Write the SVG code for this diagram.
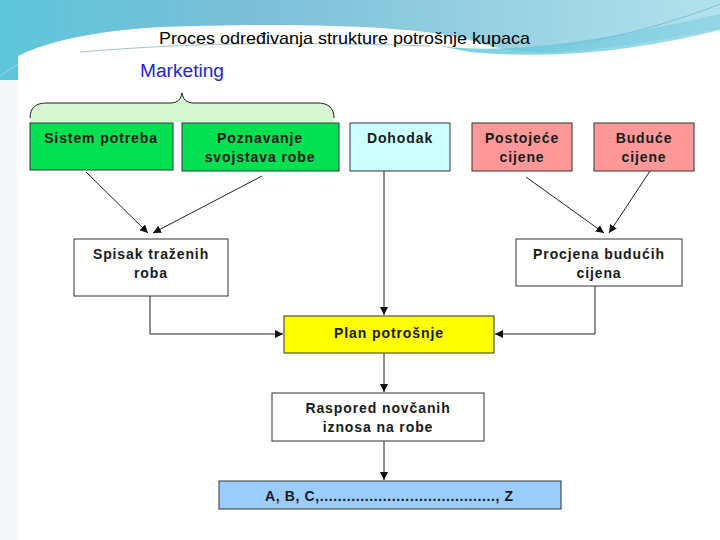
<svg xmlns="http://www.w3.org/2000/svg" width="720" height="540" viewBox="0 0 720 540">
<defs>
<linearGradient id="sky" x1="0" y1="0" x2="1" y2="0">
<stop offset="0" stop-color="#5ec6da"/>
<stop offset="0.35" stop-color="#7bbfd8"/>
<stop offset="1" stop-color="#b2e2ec"/>
</linearGradient>
<linearGradient id="wave" x1="0" y1="0" x2="1" y2="0">
<stop offset="0" stop-color="#55c3da"/>
<stop offset="1" stop-color="#8fd3e3"/>
</linearGradient>
<marker id="ah" viewBox="0 0 10 10" refX="10" refY="5" markerWidth="8" markerHeight="8" markerUnits="userSpaceOnUse" orient="auto">
<path d="M0,0 L10,5 L0,10 z" fill="#111"/>
</marker>
<style>
.box{stroke:#333;stroke-width:1}
.t{font-family:"Liberation Sans",Arial,sans-serif;font-weight:bold;font-size:14px;letter-spacing:0.9px;fill:#1a1a1a;text-anchor:middle}
.c{fill:none;stroke:#222;stroke-width:1}
</style>
</defs>
<rect x="0" y="0" width="720" height="540" fill="#f5f7f8"/>
<rect x="0" y="0" width="720" height="80" fill="url(#sky)"/>
<path d="M18,56 C40,45 80,32 160,27 C300,22 420,26 470,40 C500,50 520,53 560,52 C620,48 680,36 720,29 L720,540 L18,540 Z" fill="#ffffff"/>
<path d="M440,46 C520,56 620,36 720,14 L720,30 C640,50 560,60 470,52 Z" fill="url(#wave)" opacity="0.8"/>
<path d="M80,52 C200,42 300,42 430,46" fill="none" stroke="#9fc7d4" stroke-width="1"/>
<path d="M560,46 C620,38 680,20 720,4" fill="none" stroke="#7cc1d3" stroke-width="1"/>
<path d="M0,76 C6,72 12,68 18,64" fill="none" stroke="#9fd4e0" stroke-width="1"/>
<rect x="18" y="56" width="689" height="484" fill="#ffffff"/>
<text x="344.5" y="44" font-family="'Liberation Sans',Arial,sans-serif" font-size="17" fill="#000" text-anchor="middle" textLength="371" lengthAdjust="spacingAndGlyphs">Proces određivanja strukture potrošnje kupaca</text>

<g id="marketing">
<text x="182" y="77" font-family="'Liberation Sans',Arial,sans-serif" font-size="18" fill="#2424cc" text-anchor="middle" textLength="84" lengthAdjust="spacingAndGlyphs">Marketing</text>
<path d="M30,122 L30,114 C30,106 36,103 46,103 L170,103 C178,103 181,99 182,93 C183,99 186,103 194,103 L318,103 C328,103 334,106 334,114 L334,122 Z" fill="#d6f7d2"/>
<path d="M30,118 C30,108 36,103 46,103 L170,103 C178,103 181,99 182,93 C183,99 186,103 194,103 L318,103 C328,103 334,108 334,118" fill="none" stroke="#222" stroke-width="1"/>
</g>

<g id="sistem"><rect class="box" x="30" y="123" width="143" height="47" fill="#00e050"/><text class="t" x="101" y="143">Sistem potreba</text></g>
<g id="poznavanje"><rect class="box" x="182" y="123" width="157" height="48" fill="#00e050"/><text class="t" x="260" y="143">Poznavanje</text><text class="t" x="260" y="162">svojstava robe</text></g>
<g id="dohodak"><rect class="box" x="350" y="123" width="100" height="48" fill="#ccffff"/><text class="t" x="400" y="143">Dohodak</text></g>
<g id="postojece"><rect class="box" x="472" y="123" width="100" height="48" fill="#ff9999"/><text class="t" x="522" y="143">Postojeće</text><text class="t" x="522" y="162">cijene</text></g>
<g id="buduce"><rect class="box" x="594" y="123" width="100" height="48" fill="#ff9999"/><text class="t" x="644" y="143">Buduće</text><text class="t" x="644" y="162">cijene</text></g>
<g id="spisak"><rect class="box" x="74" y="239" width="154" height="57" fill="#ffffff"/><text class="t" x="151" y="259">Spisak traženih</text><text class="t" x="151" y="278">roba</text></g>
<g id="procjena"><rect class="box" x="516" y="239" width="166" height="47" fill="#ffffff"/><text class="t" x="599" y="259">Procjena budućih</text><text class="t" x="599" y="278">cijena</text></g>
<g id="plan"><rect class="box" x="284" y="316" width="210" height="37" fill="#ffff00"/><text class="t" x="389" y="338">Plan potrošnje</text></g>
<g id="raspored"><rect class="box" x="272" y="393" width="212" height="48" fill="#ffffff"/><text class="t" x="378" y="413">Raspored novčanih</text><text class="t" x="378" y="432">iznosa na robe</text></g>
<g id="abc"><rect class="box" x="219" y="481" width="342" height="28" fill="#99ccff"/><text class="t" x="389.5" y="501" textLength="249" lengthAdjust="spacing">A, B, C,......................................., Z</text></g>

<g id="connectors">
<line class="c" x1="86" y1="172" x2="148" y2="233" marker-end="url(#ah)"/>
<line class="c" x1="262" y1="176" x2="153" y2="233" marker-end="url(#ah)"/>
<line class="c" x1="384" y1="171" x2="384" y2="315" marker-end="url(#ah)" stroke="#555"/>
<line class="c" x1="526" y1="177" x2="604" y2="233" marker-end="url(#ah)"/>
<line class="c" x1="650" y1="171" x2="609" y2="233" marker-end="url(#ah)"/>
<polyline class="c" points="150,296 150,334 283,334" marker-end="url(#ah)"/>
<polyline class="c" points="595,286 595,334 495,334" marker-end="url(#ah)"/>
<line class="c" x1="384" y1="353" x2="384" y2="392" marker-end="url(#ah)"/>
<line class="c" x1="384" y1="441" x2="384" y2="480" marker-end="url(#ah)"/>
</g>
</svg>
